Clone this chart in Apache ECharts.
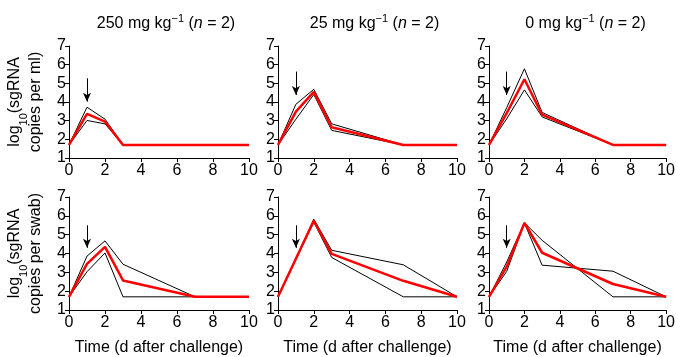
<!DOCTYPE html>
<html>
<head>
<meta charset="utf-8">
<script src="https://cdn.jsdelivr.net/npm/echarts@6/dist/echarts.min.js"></script>
<style>html,body{margin:0;padding:0;background:#fff}#c{width:678px;height:357px}</style>
</head>
<body>
<div id="c"></div>
<script>
const xDays = [0, 1, 2, 3, 7, 10];
const panelTitles = ['250', '25', '0'];
// top row: log10 sgRNA copies per ml
const ml250A = [1.7, 3.72, 3.08, 1.7, 1.7, 1.7];
const ml250B = [1.7, 3.01, 2.83, 1.7, 1.7, 1.7];
const ml250Mean = [1.7, 3.36, 2.95, 1.7, 1.7, 1.7];
const ml25A = [1.7, 3.88, 4.68, 2.83, 1.7, 1.7];
const ml25B = [1.7, 3.08, 4.4, 2.48, 1.7, 1.7];
const ml25Mean = [1.7, 3.48, 4.54, 2.65, 1.7, 1.7];
const ml0A = [1.7, 3.7, 5.78, 3.44, 1.7, 1.7];
const ml0B = [1.7, 3.1, 4.65, 3.2, 1.7, 1.7];
const ml0Mean = [1.7, 3.4, 5.22, 3.32, 1.7, 1.7];
// bottom row: log10 sgRNA copies per swab
const sw250A = [1.7, 3.86, 4.67, 3.43, 1.7, 1.7];
const sw250B = [1.7, 3.03, 4.03, 1.7, 1.7, 1.7];
const sw250Mean = [1.7, 3.45, 4.35, 2.57, 1.7, 1.7];
const sw25A = [1.7, 3.75, 5.82, 4.17, 3.4, 1.7];
const sw25B = [1.7, 3.7, 5.67, 3.79, 1.7, 1.7];
const sw25Mean = [1.7, 3.72, 5.74, 3.98, 2.55, 1.7];
const sw0A = [1.7, 3.55, 5.63, 4.7, 1.7, 1.7];
const sw0B = [1.7, 3.05, 5.62, 3.38, 3.06, 1.7];
const sw0Mean = [1.7, 3.3, 5.62, 4.04, 2.38, 1.7];
// dosing arrows [x, yStart, yEnd]
const arrowTop = [1, 5.27, 4.02];
const arrowTopMid = [1, 5.63, 4.38];
const arrowBottom = [1, 5.5, 4.3];

const panels = [
  [ml250A, ml250B, ml250Mean, arrowTop],
  [ml25A, ml25B, ml25Mean, arrowTopMid],
  [ml0A, ml0B, ml0Mean, arrowTopMid],
  [sw250A, sw250B, sw250Mean, arrowBottom],
  [sw25A, sw25B, sw25Mean, arrowBottom],
  [sw0A, sw0B, sw0Mean, arrowBottom]
];

const FONT = 'Liberation Sans';
const FS = 16;
const lefts = [69, 278, 489];
const widths = [180, 179, 179];
const tops = [46, 197];
const heights = [112, 113];

const grids = [], xAxes = [], yAxes = [], series = [], titles = [];
for (let r = 0; r < 2; r++) {
  for (let c = 0; c < 3; c++) {
    const i = r * 3 + c;
    grids.push({left: lefts[c], top: tops[r], width: widths[c], height: heights[r], containLabel: false});
    xAxes.push({
      type: 'value', gridIndex: i, min: 0, max: 10, interval: 2,
      axisLine: {lineStyle: {color: '#000', width: 1}},
      axisTick: {length: 4, lineStyle: {color: '#000'}},
      axisLabel: {color: '#000', fontSize: FS, fontFamily: FONT, margin: 5},
      splitLine: {show: false},
      name: r === 1 ? 'Time (d after challenge)' : '',
      nameLocation: 'middle', nameGap: 30,
      nameTextStyle: {color: '#000', fontSize: FS, fontFamily: FONT}
    });
    const yName = c === 0 ? ('{a|log}{s|10}{a|(sgRNA}\n{a|copies per ' + (r === 0 ? 'ml)' : 'swab)') + '}') : '';
    yAxes.push({
      type: 'value', gridIndex: i, min: 1, max: 7, interval: 1,
      axisLine: {show: true, lineStyle: {color: '#000', width: 1}},
      axisTick: {show: true, length: 4, lineStyle: {color: '#000'}},
      axisLabel: {color: '#000', fontSize: FS, fontFamily: FONT, margin: 3},
      splitLine: {show: false},
      name: yName, nameLocation: 'middle', nameRotate: 90, nameGap: 23,
      nameTextStyle: {
        color: '#000', fontFamily: FONT,
        rich: {
          a: {fontSize: FS, fontFamily: FONT, color: '#000', lineHeight: 21},
          s: {fontSize: 11, fontFamily: FONT, color: '#000', verticalAlign: 'bottom', lineHeight: 12, padding: [0, 0, -4, 0]}
        }
      }
    });
    const p = panels[i];
    const toPts = arr => xDays.map((x, k) => [x, arr[k]]);
    series.push({type: 'line', xAxisIndex: i, yAxisIndex: i, data: toPts(p[0]), symbol: 'none',
      lineStyle: {color: '#000', width: 1}, silent: true, z: 2});
    series.push({type: 'line', xAxisIndex: i, yAxisIndex: i, data: toPts(p[1]), symbol: 'none',
      lineStyle: {color: '#000', width: 1}, silent: true, z: 2,
      markLine: {
        silent: true, symbol: ['none', 'arrow'], symbolSize: [6, 9],
        lineStyle: {color: '#000', width: 1, type: 'solid'},
        label: {show: false},
        data: [[{coord: [p[3][0], p[3][1]]}, {coord: [p[3][0], p[3][2]]}]]
      }});
    series.push({type: 'line', xAxisIndex: i, yAxisIndex: i, data: toPts(p[2]), symbol: 'none',
      lineStyle: {color: '#ff0000', width: 2.5}, silent: true, z: 3});
    if (r === 0) {
      titles.push({
        text: '{a|' + panelTitles[c] + ' mg kg}{s|−1}{a| (}{i|n}{a| = 2)}',
        left: lefts[c] + widths[c] / 2 + 2, top: 8, textAlign: 'center',
        textStyle: {
          fontFamily: FONT, fontWeight: 'normal',
          rich: {
            a: {fontSize: FS, fontFamily: FONT, color: '#000', lineHeight: 21},
            i: {fontSize: FS, fontFamily: FONT, color: '#000', fontStyle: 'italic', lineHeight: 21},
            s: {fontSize: 11, fontFamily: FONT, color: '#000', verticalAlign: 'top', lineHeight: 11, padding: [0, 0, 8, 0]}
          }
        }
      });
    }
  }
}

const chart = echarts.init(document.getElementById('c'), null, {renderer: 'canvas'});
chart.setOption({
  animation: false,
  backgroundColor: '#fff',
  title: titles,
  grid: grids, xAxis: xAxes, yAxis: yAxes, series: series
});
</script>
</body>
</html>
